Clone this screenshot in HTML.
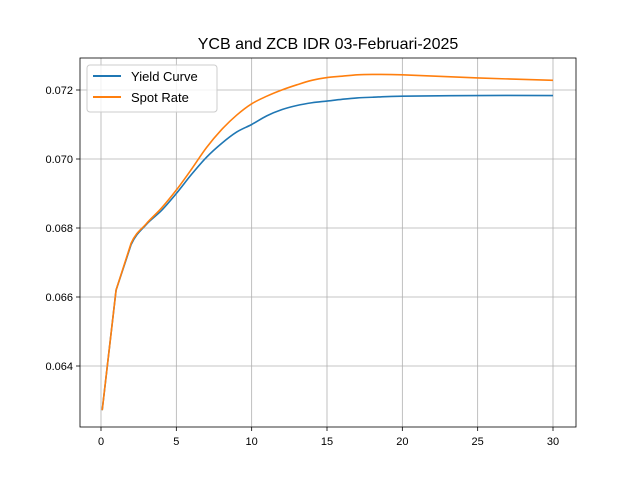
<!DOCTYPE html>
<html><head><meta charset="utf-8"><style>
body{margin:0;background:#fff;}
svg{display:block;font-family:"Liberation Sans","DejaVu Sans",sans-serif;}
</style></head><body>
<svg id="chart" width="640" height="480">
<rect x="0" y="0" width="640" height="480" fill="#fff"/>
<text x="328" y="49" text-anchor="middle" font-size="16">YCB and ZCB IDR 03-Februari-2025</text>
<g id="grid"></g><g id="series"></g><g id="axes"></g>
<g>
<rect x="87" y="65" width="130" height="47" rx="3" fill="#fff" fill-opacity="0.8" stroke="#ccc"/>
<line x1="93" y1="76" x2="121" y2="76" stroke="#1f77b4" stroke-width="2"/>
<text x="131" y="81" font-size="13">Yield Curve</text>
<line x1="93" y1="97" x2="121" y2="97" stroke="#ff7f0e" stroke-width="2"/>
<text x="131" y="102" font-size="13">Spot Rate</text>
</g>
</svg>
<script>
const tenors=[0.08,1,2,3,4,5,6,7,8,9,10,11,12,13,14,15,16,17,18,20,25,30];
const yieldCurve=[0.06272,0.0662,0.06752,0.0681,0.0685,0.0690,0.06955,0.07005,0.07045,0.07078,0.0710,0.07125,0.07143,0.07155,0.07163,0.07168,0.07173,0.07177,0.07179,0.07182,0.07184,0.07184];
const spotRate=[0.06272,0.0662,0.06756,0.06812,0.06857,0.0691,0.0697,0.07033,0.07085,0.07127,0.0716,0.07182,0.0720,0.07215,0.07228,0.07236,0.0724,0.07244,0.07245,0.07244,0.07235,0.07228];
const xTicks=[0,5,10,15,20,25,30];
const yTicks=[0.064,0.066,0.068,0.070,0.072];
const yTickLabels=["0.064","0.066","0.068","0.070","0.072"];
const L=80,R=576,T=58,B=427;
const xs=v=>101+(v-0)*(553-101)/30;
const ys=v=>366-(v-0.064)*34500;
const ns="http://www.w3.org/2000/svg";
function mk(tag,attrs,parent){const e=document.createElementNS(ns,tag);for(const k in attrs)e.setAttribute(k,attrs[k]);parent.appendChild(e);return e;}
const grid=document.getElementById('grid'),axes=document.getElementById('axes'),ser=document.getElementById('series');
xTicks.forEach(t=>{const x=xs(t);
 const g=mk('line',{x1:x,x2:x,y1:T,y2:B,stroke:'#b0b0b0','stroke-width':0.8},grid);
 
 
 mk('line',{x1:x,x2:x,y1:B,y2:B+4,stroke:'#000','stroke-width':0.8},axes);
 const tx=mk('text',{x:x,y:B+18,'text-anchor':'middle','font-size':11},axes);tx.textContent=t;
 
 
});
yTicks.forEach((t,i)=>{const y=ys(t);
 const g=mk('line',{x1:L,x2:R,y1:y,y2:y,stroke:'#b0b0b0','stroke-width':0.8},grid);
 
 
 mk('line',{x1:L-4,x2:L,y1:y,y2:y,stroke:'#000','stroke-width':0.8},axes);
 const tx=mk('text',{x:L-7,y:y+4,'text-anchor':'end','font-size':11},axes);tx.textContent=yTickLabels[i];
 
 
});
const fr=mk('rect',{x:L,y:T,width:R-L,height:B-T,fill:'none',stroke:'#000','stroke-width':0.8},axes);


function line(vals,color,name){
 const P=tenors.map((t,i)=>[xs(t),ys(vals[i])]);
 let d='M'+P[0][0].toFixed(2)+','+P[0][1].toFixed(2);
 for(let i=0;i<P.length-1;i++){
  const p0=P[Math.max(i-1,0)],p1=P[i],p2=P[i+1],p3=P[Math.min(i+2,P.length-1)];
  const k=(i<2)?0:1/6;
  const c1=[p1[0]+(p2[0]-p0[0])*k,p1[1]+(p2[1]-p0[1])*k];
  const c2=[p2[0]-(p3[0]-p1[0])*k,p2[1]-(p3[1]-p1[1])*k];
  d+=' C'+c1.map(v=>v.toFixed(2)).join(',')+' '+c2.map(v=>v.toFixed(2)).join(',')+' '+p2[0].toFixed(2)+','+p2[1].toFixed(2);
 }
 const p=mk('path',{d:d,fill:'none',stroke:color,'stroke-width':1.6,'stroke-linejoin':'round'},ser);
 
 }
line(yieldCurve,'#1f77b4','yield-curve-line');
line(spotRate,'#ff7f0e','spot-rate-line');
</script>
</body></html>
